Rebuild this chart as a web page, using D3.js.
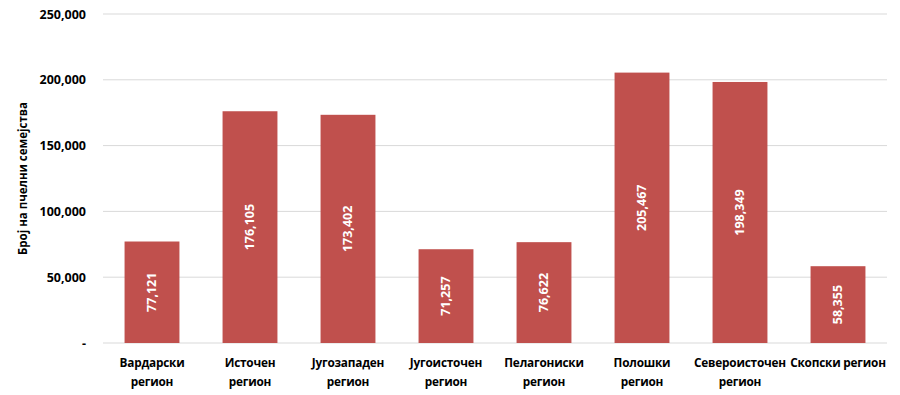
<!DOCTYPE html>
<html>
<head>
<meta charset="utf-8">
<script src="https://cdnjs.cloudflare.com/ajax/libs/d3/7.8.5/d3.min.js"></script>
<style>
  body { margin: 0; background: #fff; }
  text { font-family: "Open Sans", "DejaVu Sans", sans-serif; font-weight: bold; }
</style>
</head>
<body>
<div id="chart"></div>
<script>
var regions = ["Вардарски регион", "Источен регион", "Југозападен регион", "Југоисточен регион",
               "Пелагониски регион", "Полошки регион", "Североисточен регион", "Скопски регион"];
// how each category label is broken into lines under the axis
var regionLines = [["Вардарски", "регион"], ["Источен", "регион"], ["Југозападен", "регион"],
                   ["Југоисточен", "регион"], ["Пелагониски", "регион"], ["Полошки", "регион"],
                   ["Североисточен", "регион"], ["Скопски регион"]];
var colonies = [77121, 176105, 173402, 71257, 76622, 205467, 198349, 58355];
var yTicks = [0, 50000, 100000, 150000, 200000, 250000];
var yTitle = "Број на пчелни семејства";

var width = 900, height = 395;
var margin = {top: 14, right: 13, bottom: 52, left: 103};

var svg = d3.select("#chart").append("svg")
    .attr("width", width)
    .attr("height", height);

var x = d3.scaleBand()
    .domain(regions)
    .range([margin.left, width - margin.right])
    .paddingInner(0.44)
    .paddingOuter(0.22);

var y = d3.scaleLinear()
    .domain([0, 250000])
    .range([height - margin.bottom, margin.top]);

var fmt = d3.format(",");

// gridlines
svg.append("g")
    .selectAll("line")
    .data(yTicks).enter().append("line")
    .attr("x1", margin.left)
    .attr("x2", width - margin.right)
    .attr("y1", function(d){ return y(d); })
    .attr("y2", function(d){ return y(d); })
    .attr("stroke", "#d9d9d9")
    .attr("stroke-width", 1);

// y axis labels
var yAxis = d3.axisLeft(y)
    .tickValues(yTicks)
    .tickSize(0)
    .tickPadding(17)
    .tickFormat(function(d){ return d === 0 ? "-" : fmt(d); });

svg.append("g")
    .attr("transform", "translate(" + margin.left + ",0)")
    .call(yAxis)
    .call(function(g){ g.select(".domain").remove(); })
    .selectAll("text")
    .attr("font-size", 12.5)
    .attr("font-family", "\"Open Sans\", sans-serif")
    .attr("font-weight", "bold")
    .attr("fill", "#000");

svg.append("text")
    .attr("transform", "translate(27," + ((margin.top + height - margin.bottom) / 2) + ") rotate(-90)")
    .attr("text-anchor", "middle")
    .attr("font-size", 11.5)
    .attr("fill", "#000")
    .text(yTitle);

// bars
svg.append("g")
    .selectAll("rect")
    .data(colonies).enter().append("rect")
    .attr("x", function(d, i){ return x(regions[i]); })
    .attr("width", x.bandwidth())
    .attr("y", function(d){ return y(d); })
    .attr("height", function(d){ return y(0) - y(d); })
    .attr("fill", "#C0504D");

// value labels inside bars
svg.append("g")
    .selectAll("text")
    .data(colonies).enter().append("text")
    .attr("transform", function(d, i){
        var cx = x(regions[i]) + x.bandwidth() / 2;
        var cy = (y(d) + y(0)) / 2;
        return "translate(" + cx + "," + cy + ") rotate(-90)";
    })
    .attr("text-anchor", "middle")
    .attr("dy", "0.35em")
    .attr("font-size", 12.5)
    .attr("fill", "#fff")
    .text(function(d){ return fmt(d); });

// category labels
var xl = svg.append("g")
    .selectAll("text")
    .data(regions).enter().append("text")
    .attr("x", function(d){ return x(d) + x.bandwidth() / 2; })
    .attr("y", 367)
    .attr("text-anchor", "middle")
    .attr("font-size", 11.8)
    .attr("letter-spacing", -0.2)
    .attr("fill", "#000");

xl.selectAll("tspan")
    .data(function(d, i){ return regionLines[i]; })
    .enter().append("tspan")
    .attr("x", function(){ var p = this.parentNode; return p.getAttribute("x"); })
    .attr("dy", function(d, j){ return j === 0 ? 0 : 19; })
    .text(function(d){ return d; });
</script>
</body>
</html>
